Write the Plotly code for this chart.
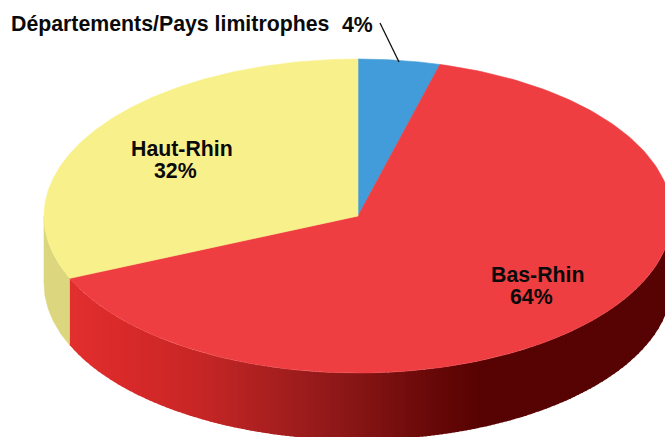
import numpy as np
import plotly.graph_objects as go

# Data
slice_names = ["Départements/Pays limitrophes", "Bas-Rhin", "Haut-Rhin"]
slice_labels = ["4%", "64%", "32%"]
slice_values = [4.2, 64.3, 31.5]  # shares as drawn in the picture
slice_colors = ["#419cd9", "#ef3e42", "#f8f18b"]
yellow_side = "#dcd67e"

# Side shading of the red slice: pixel x -> colour
shade_x = [70, 120, 200, 250, 340, 400, 450, 480, 680]
shade_rgb = [(226, 48, 47), (218, 42, 42), (200, 38, 38), (178, 34, 34),
             (142, 24, 24), (118, 14, 14), (98, 6, 6), (88, 3, 3), (88, 3, 3)]

# Geometry of the tilted pie (pixels)
CX, CY, RX, RY, DEPTH = 358, 216, 314, 157, 67


def ell(t):
    return CX + RX * np.sin(t), CY - RY * np.cos(t)


def poly(xs, ys, color):
    return go.Scatter(x=list(xs), y=list(ys), mode="lines", fill="toself",
                      fillcolor=color, line=dict(color=color, width=0.6),
                      hoverinfo="skip", showlegend=False)


fracs = np.cumsum([0] + slice_values) / sum(slice_values) * 2 * np.pi
fig = go.Figure()

# Yellow side wall
t = np.linspace(fracs[2], 1.5 * np.pi, 40)
x, y = ell(t)
fig.add_trace(poly(np.r_[x, x[::-1]], np.r_[y, y[::-1] + DEPTH], yellow_side))

# Red side wall, as thin strips with the shaded colour
x0 = ell(fracs[2])[0]
edges = np.arange(x0, CX + RX + 4, 4.0)
for a, b in zip(edges[:-1], edges[1:]):
    xs = np.linspace(a, min(b + 1, CX + RX), 5)
    u = np.clip((xs - CX) / RX, -1, 1)
    top = CY + RY * np.sqrt(1 - u ** 2)
    m = (a + b) / 2
    rgb = [np.interp(m, shade_x, [c[i] for c in shade_rgb]) for i in range(3)]
    col = "rgb(%d,%d,%d)" % tuple(rgb)
    fig.add_trace(go.Scatter(x=np.r_[xs, xs[::-1]], y=np.r_[top, top[::-1] + DEPTH],
                             mode="lines", fill="toself", fillcolor=col,
                             line=dict(width=0), hoverinfo="skip", showlegend=False))

# Top faces
for i, col in enumerate(slice_colors):
    t = np.linspace(fracs[i], fracs[i + 1], 200)
    x, y = ell(t)
    fig.add_trace(poly(np.r_[CX, x, CX], np.r_[CY, y, CY], col))

# Leader line
fig.add_trace(go.Scatter(x=[380, 399], y=[23, 62], mode="lines",
                         line=dict(color="#111111", width=1.3),
                         hoverinfo="skip", showlegend=False))

FONT = dict(family="Liberation Sans", size=21.3, color="#0a0a0a")


def label(txt, x, y, anchor="center"):
    fig.add_annotation(x=x, y=y, text="<b>%s</b>" % txt, showarrow=False,
                       xanchor=anchor, yanchor="middle", font=FONT)


label(slice_names[0], 9, 24, "left")
label(slice_labels[0], 357, 25)
label(slice_names[1], 537, 274.5)
label(slice_labels[1], 531, 296.5)
label(slice_names[2], 182, 149)
label(slice_labels[2], 175, 171)

fig.update_layout(
    width=665, height=437, autosize=False,
    margin=dict(l=0, r=0, t=0, b=0),
    paper_bgcolor="white", plot_bgcolor="white",
    xaxis=dict(range=[0, 665], visible=False, fixedrange=True),
    yaxis=dict(range=[437, 0], visible=False, fixedrange=True),
    showlegend=False,
)
fig.write_html("out.html", config=dict(displayModeBar=False),
               post_script="document.body.style.margin='0';document.body.style.overflow='hidden';")
